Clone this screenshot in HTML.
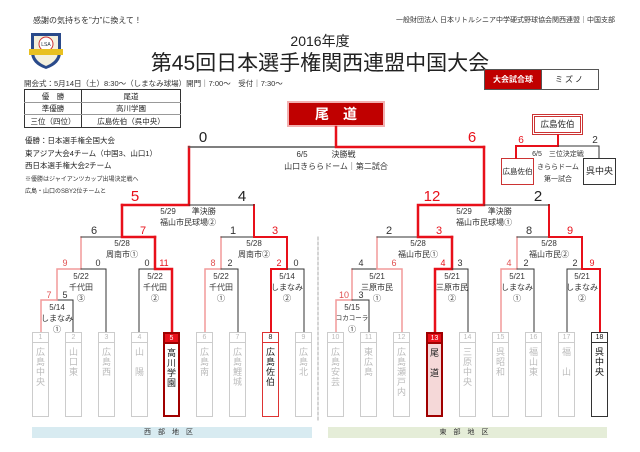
<!DOCTYPE html>
<html><head><meta charset="utf-8"><style>
*{margin:0;padding:0;box-sizing:border-box}
body{width:640px;height:452px;background:#fff;position:relative;overflow:hidden;font-family:"Liberation Sans","Noto Sans CJK JP",sans-serif;color:#222}
.a{position:absolute;white-space:nowrap}
.tb{position:absolute;width:17px;height:85px;border:1.5px solid #ccc;top:332px;text-align:center;font-size:9px;color:#bbb;background:#fff}
.tb .n{height:10px;border-bottom:1.5px solid #ccc;font-size:7px;line-height:9px}
.tb .m{padding-top:4px;line-height:10px}
svg text{font-family:"Liberation Sans","Noto Sans CJK JP",sans-serif}
</style></head><body>
<div class="a" style="left:33px;top:15px;font-size:8px;color:#333">感謝の気持ちを”力”に換えて！</div>
<div class="a" style="left:385px;top:15px;font-size:7px;color:#333;width:230px;text-align:right">一般財団法人 日本リトルシニア中学硬式野球協会関西連盟｜中国支部</div>
<svg class="a" style="left:27px;top:30px" width="40" height="40" viewBox="0 0 40 40"><path d="M4 3 H34 V22 Q34 34 19 39 Q4 34 4 22Z" fill="#2a4a8a"/><path d="M7 6 H31 V22 Q31 31 19 36 Q7 31 7 22Z" fill="#f4f0dc"/><circle cx="19" cy="14" r="7" fill="#fff" stroke="#c33" stroke-width="1"/><rect x="2" y="19" width="34" height="6" fill="#e8c020"/><text x="19" y="16" font-size="5" text-anchor="middle" fill="#234">LSA</text></svg>
<div class="a" style="left:0;width:640px;top:31px;text-align:center;font-size:14px">2016年度</div>
<div class="a" style="left:0;width:640px;top:47px;text-align:center;font-size:21px;letter-spacing:0px">第45回日本選手権関西連盟中国大会</div>
<div class="a" style="left:24px;top:78px;font-size:7.5px;color:#333">開会式：5月14日（土）8:30～（しまなみ球場）開門｜7:00～　受付｜7:30～</div>
<table class="a" style="left:24px;top:89px;width:157px;border-collapse:collapse;font-size:7.5px;border:1.5px solid #333;text-align:center">
<tr style="height:13px"><td style="width:57px;border-right:1.5px solid #333;border-bottom:1px solid #999">優　勝</td><td style="border-bottom:1px solid #999">尾道</td></tr>
<tr style="height:12px"><td style="border-right:1.5px solid #333;border-bottom:1px solid #999">準優勝</td><td style="border-bottom:1px solid #999">高川学園</td></tr>
<tr style="height:13px"><td style="border-right:1.5px solid #333">三位（四位）</td><td>広島佐伯（呉中央）</td></tr></table>
<div class="a" style="left:25px;top:135px;font-size:7.5px;line-height:12.6px;color:#222">優勝：日本選手権全国大会<br>東アジア大会4チーム（中国3、山口1）<br>西日本選手権大会2チーム</div>
<div class="a" style="left:25px;top:174px;font-size:6px;line-height:12px;color:#333">※優勝はジャイアンツカップ出場決定戦へ<br>広島・山口のSBY2位チームと</div>
<div class="a" style="left:484px;top:69px;width:58px;height:21px;background:#c00000;border:1px solid #555;color:#fff;font-size:8px;font-weight:bold;text-align:center;line-height:19px">大会試合球</div>
<div class="a" style="left:541px;top:69px;width:58px;height:21px;border:1px solid #555;font-size:8px;text-align:center;line-height:19px;letter-spacing:2px">ミズノ</div>
<div class="a" style="left:287px;top:101px;width:98px;height:26px;background:#c00000;border:2px solid #f2b0b0;color:#fff;font-size:14px;font-weight:bold;text-align:center;line-height:22px;letter-spacing:14px;padding-left:14px">尾道</div>
<div class="a" style="left:532px;top:114px;width:51px;height:21px;border:3px double #c33;background:#fff;font-size:8.5px;text-align:center;line-height:15px;color:#222">広島佐伯</div>
<div class="a" style="left:501px;top:158px;width:33px;height:27px;border:1px solid #c33;font-size:7.5px;text-align:center;line-height:25px">広島佐伯</div>
<div class="a" style="left:583px;top:158px;width:33px;height:27px;border:1px solid #333;font-size:9px;text-align:center;line-height:25px">呉中央</div>
<svg class="a" style="left:0;top:0" width="640" height="452">
<g fill="none" stroke-linecap="square">
<!-- West -->
<path d="M41 332V300H57" stroke="#f29a9a" stroke-width="1.5"/><path d="M57 300H73V332" stroke="#333"/>
<path d="M57 300V269H81V237" stroke="#f29a9a" stroke-width="1.5"/><path d="M81 269H106V332" stroke="#333"/>
<path d="M139 332V269H155" stroke="#333"/><path d="M172 332V269H155V237" stroke="#e8101a" stroke-width="2.5"/>
<path d="M81 237H122" stroke="#333"/><path d="M155 237H122V205" stroke="#e8101a" stroke-width="2.5"/>
<path d="M205 332V269H221V237" stroke="#f29a9a" stroke-width="1.5"/><path d="M221 269H238V332" stroke="#333"/>
<path d="M271 332V269H287V237" stroke="#e8101a" stroke-width="2"/><path d="M287 269H304V332" stroke="#333"/>
<path d="M221 237H254" stroke="#333"/><path d="M287 237H254V205" stroke="#e8101a" stroke-width="2"/>
<path d="M122 205H189V147" stroke="#e8101a" stroke-width="2.5"/><path d="M189 205H254" stroke="#333"/>
<path d="M189 147H336" stroke="#555" stroke-width="1.5"/>
<path d="M484 147H336V127" stroke="#e8101a" stroke-width="2.5"/>
<!-- East -->
<path d="M336 332V300H352V269" stroke="#f29a9a" stroke-width="1.5"/><path d="M352 300H369V332" stroke="#333"/>
<path d="M352 269H377" stroke="#333"/><path d="M402 332V269H377V237" stroke="#f29a9a" stroke-width="1.5"/>
<path d="M435 332V269H452V237" stroke="#e8101a" stroke-width="2.5"/><path d="M452 269H468V332" stroke="#333"/>
<path d="M377 237H418" stroke="#333"/><path d="M452 237H418V205H484V147" stroke="#e8101a" stroke-width="2.5"/>
<path d="M501 332V269H517V237" stroke="#f29a9a" stroke-width="1.5"/><path d="M517 269H534V332" stroke="#333"/>
<path d="M567 332V269H582" stroke="#333"/><path d="M600 332V269H582V237" stroke="#e8101a" stroke-width="2"/>
<path d="M517 237H549" stroke="#333"/><path d="M582 237H549V205" stroke="#e8101a" stroke-width="2"/>
<path d="M484 205H549" stroke="#333"/>
<!-- third -->
<path d="M558 135V146H516V158" stroke="#e8101a" stroke-width="2"/><path d="M558 146H599V158" stroke="#333"/>
<path d="M318 237V422" stroke="#aaa" stroke-dasharray="3,2"/>
</g>
<g font-size="8" fill="#333" text-anchor="middle">
<text x="57" y="310">5/14</text><text x="57" y="321">しまなみ</text><text x="57" y="332">①</text>
<text x="81" y="279">5/22</text><text x="81" y="290">千代田</text><text x="81" y="301">③</text>
<text x="155" y="279">5/22</text><text x="155" y="290">千代田</text><text x="155" y="301">②</text>
<text x="221" y="279">5/22</text><text x="221" y="290">千代田</text><text x="221" y="301">①</text>
<text x="287" y="279">5/14</text><text x="287" y="290">しまなみ</text><text x="287" y="301">②</text>
<text x="122" y="246">5/28</text><text x="122" y="257">周南市①</text>
<text x="254" y="246">5/28</text><text x="254" y="257">周南市②</text>
<text x="188" y="214">5/29　　準決勝</text><text x="188" y="225">福山市民球場②</text>
<text x="352" y="310">5/15</text><text x="352" y="320" font-size="6.5">コカコーラ</text><text x="352" y="332">①</text>
<text x="377" y="279">5/21</text><text x="377" y="290">三原市民</text><text x="377" y="301">①</text>
<text x="452" y="279">5/21</text><text x="452" y="290">三原市民</text><text x="452" y="301">②</text>
<text x="517" y="279">5/21</text><text x="517" y="290">しまなみ</text><text x="517" y="301">①</text>
<text x="582" y="279">5/21</text><text x="582" y="290">しまなみ</text><text x="582" y="301">②</text>
<text x="418" y="246">5/28</text><text x="418" y="257">福山市民①</text>
<text x="549" y="246">5/28</text><text x="549" y="257">福山市民②</text>
<text x="484" y="214">5/29　　準決勝</text><text x="484" y="225">福山市民球場①</text>
<text x="326" y="157">6/5　　　決勝戦</text><text x="336" y="169">山口きららドーム｜第二試合</text>
<text x="558" y="156" font-size="7">6/5　三位決定戦</text><text x="558" y="169" font-size="7">きららドーム</text><text x="558" y="181" font-size="7">第一試合</text>
</g>
<g font-size="9" text-anchor="middle" fill="#333">
<text x="49" y="298" fill="#e05050">7</text><text x="65" y="298">5</text>
<text x="65" y="266" fill="#e05050">9</text><text x="98" y="266">0</text>
<text x="147" y="266">0</text><text x="164" y="266" fill="#e8101a">11</text>
<text x="213" y="266" fill="#e05050">8</text><text x="230" y="266">2</text>
<text x="279" y="266" fill="#e8101a">2</text><text x="296" y="266">0</text>
<text x="344" y="298" fill="#e05050">10</text><text x="361" y="298">3</text>
<text x="361" y="266">4</text><text x="394" y="266" fill="#e05050">6</text>
<text x="443" y="266" fill="#e8101a">4</text><text x="460" y="266">3</text>
<text x="509" y="266" fill="#e05050">4</text><text x="526" y="266">2</text>
<text x="575" y="266">2</text><text x="592" y="266" fill="#e8101a">9</text>
</g>
<g font-size="11" text-anchor="middle" fill="#333">
<text x="94" y="234">6</text><text x="143" y="234" fill="#e8101a">7</text>
<text x="233" y="234">1</text><text x="275" y="234" fill="#e8101a">3</text>
<text x="389" y="234">2</text><text x="439" y="234" fill="#e8101a">3</text>
<text x="529" y="234">8</text><text x="570" y="234" fill="#e8101a">9</text>
<text x="521" y="143" fill="#e8101a" font-size="10">6</text><text x="595" y="143" font-size="10">2</text>
</g>
<g font-size="15" text-anchor="middle" fill="#222">
<text x="135" y="201" fill="#e8101a">5</text><text x="242" y="201">4</text>
<text x="432" y="201" fill="#e8101a">12</text><text x="538" y="201">2</text>
<text x="203" y="142">0</text><text x="472" y="142" fill="#e8101a">6</text>
</g>
</svg>
<div class="tb" style="left:32px"><div class="n">1</div><div class="m">広<br>島<br>中<br>央</div></div>
<div class="tb" style="left:65px"><div class="n">2</div><div class="m">山<br>口<br>東</div></div>
<div class="tb" style="left:98px"><div class="n">3</div><div class="m">広<br>島<br>西</div></div>
<div class="tb" style="left:131px"><div class="n">4</div><div class="m">山<br><br>陽</div></div>
<div class="tb" style="left:163px;border:2px solid #a00000;color:#222"><div class="n" style="background:#e8101a;color:#fff;border-bottom:2px solid #a00000">5</div><div class="m">高<br>川<br>学<br>園</div></div>
<div class="tb" style="left:196px"><div class="n">6</div><div class="m">広<br>島<br>南</div></div>
<div class="tb" style="left:229px"><div class="n">7</div><div class="m">広<br>島<br>鯉<br>城</div></div>
<div class="tb" style="left:262px;border-color:#d33;color:#222"><div class="n" style="border-color:#d33">8</div><div class="m">広<br>島<br>佐<br>伯</div></div>
<div class="tb" style="left:295px"><div class="n">9</div><div class="m">広<br>島<br>北</div></div>
<div class="tb" style="left:327px"><div class="n">10</div><div class="m">広<br>島<br>安<br>芸</div></div>
<div class="tb" style="left:360px"><div class="n">11</div><div class="m">東<br>広<br>島</div></div>
<div class="tb" style="left:393px"><div class="n">12</div><div class="m">広<br>島<br>瀬<br>戸<br>内</div></div>
<div class="tb" style="left:426px;border:2px solid #a00000;color:#222;background:#f5d8d8"><div class="n" style="background:#e8101a;color:#fff;border-bottom:2px solid #a00000">13</div><div class="m">尾<br><br>道</div></div>
<div class="tb" style="left:459px"><div class="n">14</div><div class="m">三<br>原<br>中<br>央</div></div>
<div class="tb" style="left:492px"><div class="n">15</div><div class="m">呉<br>昭<br>和</div></div>
<div class="tb" style="left:525px"><div class="n">16</div><div class="m">福<br>山<br>東</div></div>
<div class="tb" style="left:558px"><div class="n">17</div><div class="m">福<br><br>山</div></div>
<div class="tb" style="left:591px;border-color:#333;color:#111"><div class="n" style="border-color:#333;color:#111">18</div><div class="m">呉<br>中<br>央</div></div>
<div class="a" style="left:32px;top:427px;width:280px;height:11px;background:#d8ebf1;font-size:7px;text-align:center;line-height:11px;letter-spacing:7px;color:#333">西部地区</div>
<div class="a" style="left:328px;top:427px;width:279px;height:11px;background:#e5edd8;font-size:7px;text-align:center;line-height:11px;letter-spacing:7px;color:#333">東部地区</div>
</body></html>
